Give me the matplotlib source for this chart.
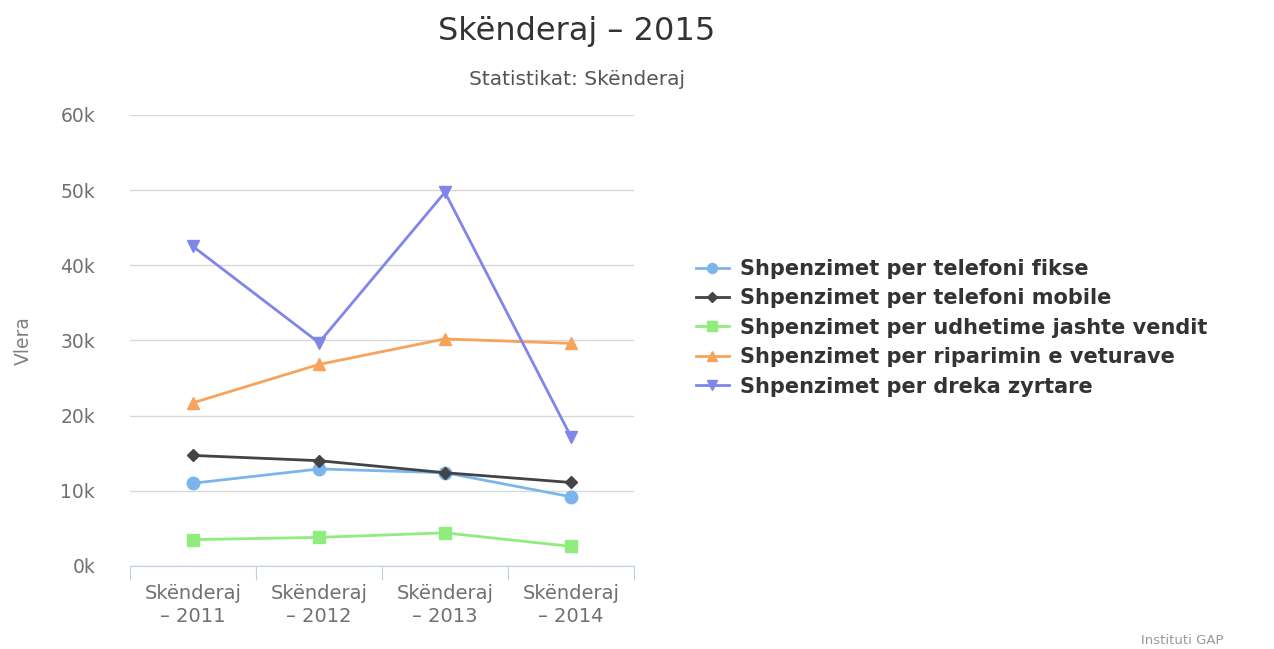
import matplotlib.pyplot as plt

kategorite = ["Skënderaj\n– 2011", "Skënderaj\n– 2012", "Skënderaj\n– 2013", "Skënderaj\n– 2014"]

seri_emrat = [
    "Shpenzimet per telefoni fikse",
    "Shpenzimet per telefoni mobile",
    "Shpenzimet per udhetime jashte vendit",
    "Shpenzimet per riparimin e veturave",
    "Shpenzimet per dreka zyrtare",
]
telefoni_fikse = [11000, 12900, 12400, 9200]
telefoni_mobile = [14700, 14000, 12400, 11100]
udhetime = [3500, 3800, 4400, 2600]
riparimi = [21700, 26800, 30200, 29600]
dreka = [42500, 29700, 49700, 17200]

ngjyrat = ["#7cb5ec", "#434348", "#90ed7d", "#f7a35c", "#8085e9"]
shenjat = ["o", "D", "s", "^", "v"]
madhesite = [9, 6, 9, 9, 9]

fig = plt.figure(figsize=(12.74, 6.49), dpi=100)
ax = fig.add_axes([0.102, 0.128, 0.3956, 0.695])

x = list(range(len(kategorite)))
seri = [telefoni_fikse, telefoni_mobile, udhetime, riparimi, dreka]
for vlerat, emri, ngj, sh, ms in zip(seri, seri_emrat, ngjyrat, shenjat, madhesite):
    ax.plot(x, vlerat, color=ngj, marker=sh, markersize=ms, linewidth=2, label=emri)

ax.set_xlim(-0.5, 3.5)
ax.set_ylim(0, 60000)
ax.set_yticks(range(0, 60001, 10000))
ax.set_yticklabels([f"{v // 1000}k" for v in range(0, 60001, 10000)])
ax.yaxis.grid(True, color="#d8d8d8", linewidth=1)
ax.set_axisbelow(True)
ax.tick_params(axis="y", length=0, labelsize=13.5, colors="#707070", pad=25)

ax.set_xticks([i - 0.5 for i in range(5)])
ax.set_xticklabels([])
ax.set_xticks(x, minor=True)
ax.set_xticklabels(kategorite, minor=True, linespacing=1.3)
ax.tick_params(axis="x", which="major", length=10, color="#c0d0e0")
ax.tick_params(axis="x", which="minor", length=0, labelsize=14, colors="#707070", pad=13)

for s in ["left", "right", "top"]:
    ax.spines[s].set_visible(False)
ax.spines["bottom"].set_color("#c0d0e0")

ax.set_ylabel("Vlera", fontsize=13.5, color="#808080", labelpad=20)

fig.text(0.453, 0.952, "Skënderaj – 2015", ha="center", va="center", fontsize=23, color="#333333")
fig.text(0.453, 0.877, "Statistikat: Skënderaj", ha="center", va="center", fontsize=14.5, color="#555555")
fig.text(0.96, 0.003, "Instituti GAP", ha="right", va="bottom", fontsize=9.5, color="#999999")

ax.legend(loc="center left", bbox_to_anchor=(1.085, 0.528), frameon=False,
          prop={"weight": "bold", "size": 15}, labelcolor="#333333",
          handlelength=1.6, labelspacing=0.45, handletextpad=0.55, markerscale=0.8)

fig.savefig("out.png")
